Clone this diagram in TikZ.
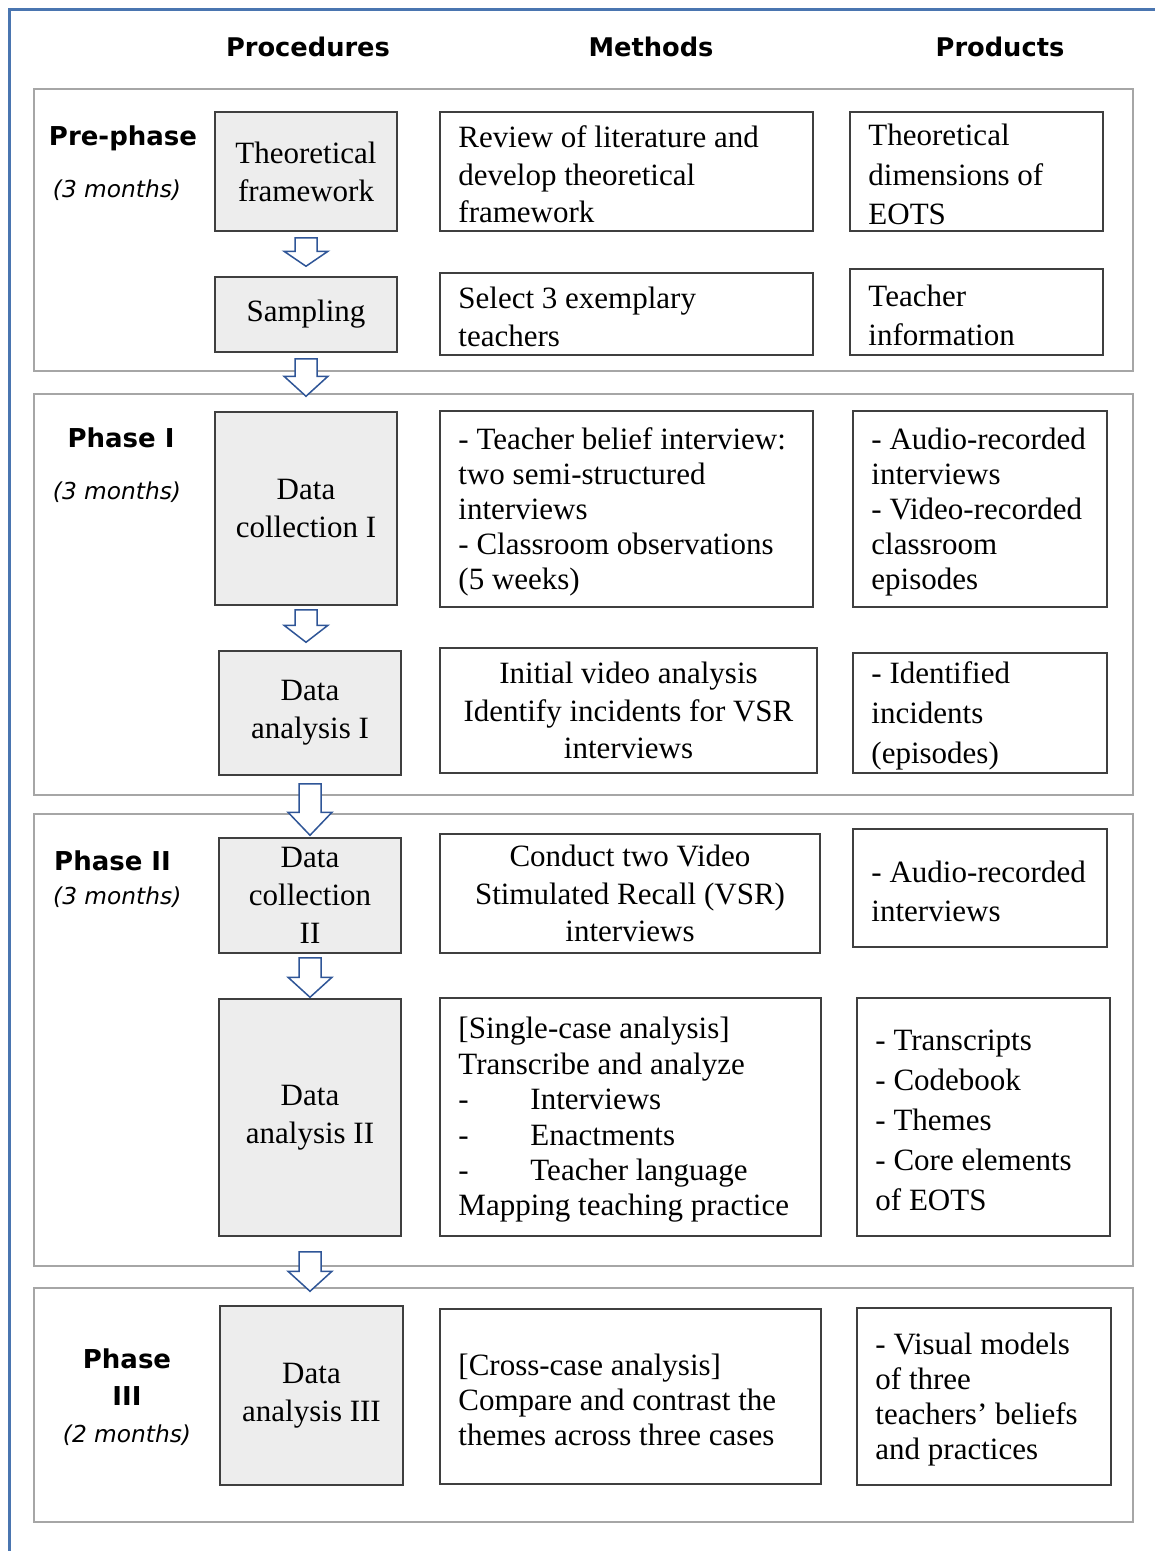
\documentclass[tikz,border=0pt]{standalone}
\usepackage{fontspec}
\setmainfont{Liberation Serif}
\newfontfamily\hdrfont{DejaVu Sans}
\usetikzlibrary{calc}
\definecolor{frameblue}{HTML}{4A75B0}
\definecolor{phasegray}{HTML}{A6A6A6}
\definecolor{boxline}{HTML}{3F3F3F}
\definecolor{procfill}{HTML}{EDEDED}
\definecolor{arrowblue}{HTML}{2F5597}
\newcommand\blkarrow[5]{%
  \draw[barrow] let \p1=(#1.south), \p2=(#2.north) in
   (\x1-11pt,\y1-#3pt) -- (\x1+11pt,\y1-#3pt) -- (\x1+11pt,\y2+#4pt+#5pt)
   -- (\x1+22pt,\y2+#4pt+#5pt) -- (\x1,\y2+#4pt) -- (\x1-22pt,\y2+#4pt+#5pt)
   -- (\x1-11pt,\y2+#4pt+#5pt) -- cycle;}
\newcommand\dashitem[1]{\makebox[72pt][l]{-}#1}
\tikzset{
  phasebox/.style={draw=phasegray, line width=2pt, rectangle, inner sep=0pt},
  procbox/.style={draw=boxline, fill=procfill, line width=1.5pt, rectangle, inner sep=0pt, align=center, font={\fontsize{31}{38}\selectfont}},
  wbox/.style={draw=boxline, fill=white, line width=1.5pt, rectangle, inner sep=0pt, align=center, font={\fontsize{31}{37.5}\selectfont}},
  lt/.style={inner sep=0pt, align=left, anchor=west, yshift=-3pt, font={\fontsize{31}{#1}\selectfont}},
  colhead/.style={font={\hdrfont\bfseries\fontsize{25.7}{30}\selectfont}, inner sep=0pt},
  phlabel/.style={font={\hdrfont\bfseries\fontsize{26}{37}\selectfont}, inner sep=0pt, align=center},
  phdur/.style={font={\hdrfont\itshape\fontsize{23.3}{27}\selectfont}, inner sep=0pt},
  barrow/.style={draw=arrowblue, fill=white, line width=1.5pt, line join=miter},
}
\begin{document}
\begin{tikzpicture}[x=1pt, y=-1pt]
\useasboundingbox (0,0) rectangle (1155,1551);
\fill[white] (0,0) rectangle (1155,1551);
% outer frame
\draw[frameblue, line width=3pt] (9,1565) -- (9,9) -- (1170,9);
% column headers
\node[colhead] (hproc) at (308,47) {Procedures};
\node[colhead] (hmeth) at (651,47) {Methods};
\node[colhead] (hprod) at (1000,47) {Products};
% phase boxes
\node[phasebox, minimum width=1099pt, minimum height=282pt] (ph0) at (583,230) {};
\node[phasebox, minimum width=1099pt, minimum height=401pt] (ph1) at (583,594.5) {};
\node[phasebox, minimum width=1099pt, minimum height=452pt] (ph2) at (583,1040) {};
\node[phasebox, minimum width=1099pt, minimum height=234pt] (ph3) at (583,1405) {};
% phase labels
\node[phlabel] (l0) at (123,138) {Pre-phase};
\node[phdur] (d0) at (117,190) {(3 months)};
\node[phlabel] (l1) at (121,438) {Phase I};
\node[phdur] (d1) at (117,492) {(3 months)};
\node[phlabel, anchor=west] (l2) at (54,861) {Phase II};
\node[phdur, anchor=west] (d2) at (53,897) {(3 months)};
\node[phlabel] (l3) at (127,1377) {Phase\\III};
\node[phdur] (d3) at (127,1435) {(2 months)};
% procedures
\node[procbox, minimum width=182pt, minimum height=119pt] (tf) at (306,171.5) {Theoretical\\framework};
\node[procbox, minimum width=182pt, minimum height=75pt] (samp) at (306,314.5) {Sampling};
\node[procbox, minimum width=182pt, minimum height=193pt] (dc1) at (306,508.5) {Data\\collection I};
\node[procbox, minimum width=182pt, minimum height=124pt] (da1) at (310,713) {Data\\analysis I};
\node[procbox, minimum width=182pt, minimum height=115pt] (dc2) at (310,895.5) {Data\\collection\\II};
\node[procbox, minimum width=182pt, minimum height=237pt] (da2) at (310,1117.5) {Data\\analysis II};
\node[procbox, minimum width=183pt, minimum height=179pt] (da3) at (311.5,1395.5) {Data\\analysis III};
% methods
\node[wbox, minimum width=373pt, minimum height=119pt] (m1) at (626.5,171.5) {};
\node[lt=37.5] (m1t) at ([xshift=19pt]m1.west) {Review of literature and\\develop theoretical\\framework};
\node[wbox, minimum width=373pt, minimum height=82pt] (m2) at (626.5,314) {};
\node[lt=38] (m2t) at ([xshift=19pt]m2.west) {Select 3 exemplary\\teachers};
\node[wbox, minimum width=373pt, minimum height=196pt] (m3) at (626.5,509) {};
\node[lt=35] (m3t) at ([xshift=19pt]m3.west) {- Teacher belief interview:\\two semi-structured\\interviews\\- Classroom observations\\(5 weeks)};
\node[wbox, minimum width=377pt, minimum height=125pt] (m4) at (628.5,710.5) {Initial video analysis\\Identify incidents for VSR\\interviews};
\node[wbox, minimum width=380pt, minimum height=119pt] (m5) at (630,893.5) {Conduct two Video\\Stimulated Recall (VSR)\\interviews};
\node[wbox, minimum width=381pt, minimum height=238pt] (m6) at (630.5,1117) {};
\node[lt=35.4] (m6t) at ([xshift=19pt]m6.west) {[Single-case analysis]\\Transcribe and analyze\\\dashitem{Interviews}\\\dashitem{Enactments}\\\dashitem{Teacher language}\\Mapping teaching practice};
\node[wbox, minimum width=381pt, minimum height=175pt] (m7) at (630.5,1396.5) {};
\node[lt=35] (m7t) at ([xshift=19pt]m7.west) {[Cross-case analysis]\\Compare and contrast the\\themes across three cases};
% products
\node[wbox, minimum width=253pt, minimum height=119pt] (p1) at (976.5,171.5) {};
\node[lt=39.5] (p1t) at ([xshift=19pt]p1.west) {Theoretical\\dimensions of\\EOTS};
\node[wbox, minimum width=253pt, minimum height=86pt] (p2) at (976.5,312) {};
\node[lt=39] (p2t) at ([xshift=19pt]p2.west) {Teacher\\information};
\node[wbox, minimum width=254pt, minimum height=196pt] (p3) at (980,509) {};
\node[lt=35] (p3t) at ([xshift=19pt]p3.west) {- Audio-recorded\\interviews\\- Video-recorded\\classroom\\episodes};
\node[wbox, minimum width=254pt, minimum height=120pt] (p4) at (980,713) {};
\node[lt=40] (p4t) at ([xshift=19pt]p4.west) {- Identified\\incidents\\(episodes)};
\node[wbox, minimum width=254pt, minimum height=118pt] (p5) at (980,888) {};
\node[lt=39] (p5t) at ([xshift=19pt]p5.west) {- Audio-recorded\\interviews};
\node[wbox, minimum width=253pt, minimum height=238pt] (p6) at (983.5,1117) {};
\node[lt=40] (p6t) at ([xshift=19pt]p6.west) {- Transcripts\\- Codebook\\- Themes\\- Core elements\\of EOTS};
\node[wbox, minimum width=254pt, minimum height=177pt] (p7) at (984,1396.5) {};
\node[lt=35] (p7t) at ([xshift=19pt]p7.west) {- Visual models\\of three\\teachers’ beliefs\\and practices};
% block arrows
\blkarrow{tf}{samp}{6}{10}{15}
\blkarrow{samp}{dc1}{6}{15}{20}
\blkarrow{dc1}{da1}{4}{8}{17}
\blkarrow{da1}{dc2}{8}{2}{23}
\blkarrow{dc2}{da2}{4}{1}{20}
\blkarrow{da2}{da3}{15}{14}{20}
\end{tikzpicture}
\end{document}
